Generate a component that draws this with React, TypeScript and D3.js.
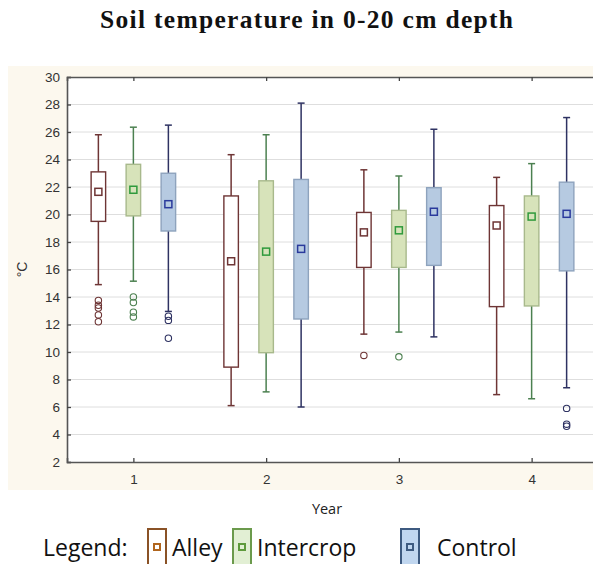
import React, { useEffect, useRef } from 'react';
import * as d3 from 'd3';

// years on the x axis
const years = [1, 2, 3, 4];
const treatments = ['Alley', 'Intercrop', 'Control'];

// box stats per treatment, one entry per year: [whiskerLow, q1, mean, q3, whiskerHigh]
const alleyStats = [
  [14.9, 19.5, 21.65, 23.1, 25.8],
  [6.1, 8.9, 16.6, 21.35, 24.35],
  [11.3, 16.15, 18.7, 20.15, 23.25],
  [6.9, 13.3, 19.2, 20.65, 22.7],
];
const intercropStats = [
  [15.15, 19.9, 21.8, 23.65, 26.35],
  [7.1, 9.95, 17.3, 22.45, 25.8],
  [11.45, 16.15, 18.85, 20.3, 22.8],
  [6.6, 13.35, 19.85, 21.35, 23.7],
];
const controlStats = [
  [12.95, 18.8, 20.75, 23.0, 26.5],
  [6.0, 12.4, 17.5, 22.55, 28.1],
  [11.1, 16.3, 20.2, 21.95, 26.2],
  [7.4, 15.9, 20.05, 22.35, 27.05],
];

// outliers per treatment, per year
const alleyOutliers = [[13.75, 13.4, 13.2, 12.7, 12.2], [], [9.75], []];
const intercropOutliers = [[14.0, 13.6, 12.9, 12.55], [], [9.65], []];
const controlOutliers = [[12.6, 12.3, 11.0], [], [], [5.9, 4.75, 4.6]];

const yTicks = [2, 4, 6, 8, 10, 12, 14, 16, 18, 20, 22, 24, 26, 28, 30];

const styles: Record<string, { fill: string; box: string; whisker: string; mean: string }> = {
  Alley: { fill: '#ffffff', box: '#6e3535', whisker: '#6e3535', mean: '#6e3535' },
  Intercrop: { fill: '#d7e3ba', box: '#a8b98c', whisker: '#4c8050', mean: '#2f9a3c' },
  Control: { fill: '#b6cae1', box: '#8ea3bd', whisker: '#2e3262', mean: '#2a3a9c' },
};

const legendStyles: Record<string, { fill: string; stroke: string; dot: string }> = {
  Alley: { fill: '#ffffff', stroke: '#8a5226', dot: '#b0651e' },
  Intercrop: { fill: '#e2efd4', stroke: '#6b9a4c', dot: '#5e9a3c' },
  Control: { fill: '#c0d6ef', stroke: '#3d5a80', dot: '#3d5a80' },
};

const W = 593;
const H = 564;

export default function App() {
  const svgRef = useRef<SVGSVGElement | null>(null);

  useEffect(() => {
    if (!svgRef.current) return;
    const svg = d3.select(svgRef.current);
    svg.selectAll('*').remove();

    const plot = { left: 67, top: 77, bottom: 462, right: 598 };

    const x = d3.scaleLinear().domain([0.5, 4.5]).range([plot.left, plot.right]);
    const y = d3.scaleLinear().domain([2, 30]).range([plot.bottom, plot.top]);
    const offset = d3.scalePoint<string>().domain(treatments).range([-35, 35]);

    // beige panel
    svg.append('rect')
      .attr('x', 8).attr('y', 66)
      .attr('width', W - 8).attr('height', 424)
      .attr('fill', '#fcf8ee');

    // title
    svg.append('text')
      .attr('x', 100).attr('y', 28)
      .attr('font-family', '"Liberation Serif", serif')
      .attr('font-weight', 'bold')
      .attr('font-size', 25.5)
      .attr('textLength', 413)
      .attr('lengthAdjust', 'spacing')
      .attr('fill', '#111')
      .text('Soil temperature in 0-20 cm depth');

    // plot area
    svg.append('rect')
      .attr('x', plot.left).attr('y', plot.top)
      .attr('width', plot.right - plot.left).attr('height', plot.bottom - plot.top)
      .attr('fill', '#ffffff');

    // grid
    svg.append('g')
      .selectAll('line')
      .data(yTicks.slice(1, -1))
      .join('line')
      .attr('x1', plot.left).attr('x2', plot.right)
      .attr('y1', d => y(d)).attr('y2', d => y(d))
      .attr('stroke', '#dedede')
      .attr('stroke-width', 1);

    // axes
    const yAxis = d3.axisLeft(y).tickValues(yTicks).tickSize(-4).tickPadding(7);
    const gy = svg.append('g').attr('transform', `translate(${plot.left},0)`).call(yAxis);
    const xAxis = d3.axisBottom(x).tickValues(years).tickSize(-4).tickPadding(12).tickFormat(d3.format('d'));
    const gx = svg.append('g').attr('transform', `translate(0,${plot.bottom})`).call(xAxis);
    const xTop = d3.axisTop(x).tickValues(years).tickSize(-4).tickFormat(() => '');
    const gt = svg.append('g').attr('transform', `translate(0,${plot.top})`).call(xTop);

    [gy, gx, gt].forEach(g => {
      g.select('.domain').attr('stroke', '#555').attr('stroke-width', 1.6);
      g.selectAll('.tick line').attr('stroke', '#444').attr('stroke-width', 1.3);
      g.selectAll('.tick text')
        .attr('fill', '#333')
        .attr('font-family', '"Liberation Sans", Arial, sans-serif')
        .attr('font-size', 13.5);
    });

    // axis titles
    svg.append('text')
      .attr('transform', `translate(27,${(plot.top + plot.bottom) / 2}) rotate(-90)`)
      .attr('text-anchor', 'middle')
      .attr('font-family', '"Liberation Sans", Arial, sans-serif')
      .attr('font-size', 14)
      .attr('fill', '#333')
      .text('°C');

    svg.append('text')
      .attr('x', 327).attr('y', 514)
      .attr('text-anchor', 'middle')
      .attr('font-family', '"Open Sans", sans-serif')
      .attr('font-size', 14.5)
      .attr('fill', '#222')
      .text('Year');

    // boxes
    const statsBy: Record<string, number[][]> = { Alley: alleyStats, Intercrop: intercropStats, Control: controlStats };
    const outBy: Record<string, number[][]> = { Alley: alleyOutliers, Intercrop: intercropOutliers, Control: controlOutliers };
    const boxW = 14.5;
    const capW = 7;
    const meanSz = 7;

    treatments.forEach(t => {
      const st = styles[t];
      years.forEach((yr, i) => {
        const [lo, q1, mean, q3, hi] = statsBy[t][i];
        const cx = x(yr) + (offset(t) ?? 0);
        const g = svg.append('g');
        // whisker
        g.append('line').attr('x1', cx).attr('x2', cx).attr('y1', y(hi)).attr('y2', y(lo))
          .attr('stroke', st.whisker).attr('stroke-width', 1.5);
        g.append('line').attr('x1', cx - capW / 2).attr('x2', cx + capW / 2).attr('y1', y(hi)).attr('y2', y(hi))
          .attr('stroke', st.whisker).attr('stroke-width', 1.5);
        g.append('line').attr('x1', cx - capW / 2).attr('x2', cx + capW / 2).attr('y1', y(lo)).attr('y2', y(lo))
          .attr('stroke', st.whisker).attr('stroke-width', 1.5);
        // box
        g.append('rect')
          .attr('x', cx - boxW / 2).attr('y', y(q3))
          .attr('width', boxW).attr('height', y(q1) - y(q3))
          .attr('fill', st.fill).attr('stroke', st.box).attr('stroke-width', 1.4);
        // mean
        g.append('rect')
          .attr('x', cx - meanSz / 2).attr('y', y(mean) - meanSz / 2)
          .attr('width', meanSz).attr('height', meanSz)
          .attr('fill', 'none').attr('stroke', st.mean).attr('stroke-width', 1.5);
        // outliers
        g.selectAll('circle')
          .data(outBy[t][i])
          .join('circle')
          .attr('cx', cx).attr('cy', d => y(d)).attr('r', 3.2)
          .attr('fill', 'none').attr('stroke', st.whisker).attr('stroke-width', 1.1);
      });
    });

    // legend
    const lg = svg.append('g').attr('font-family', '"Open Sans", sans-serif').attr('font-size', 23).attr('fill', '#111');
    lg.append('text').attr('x', 43).attr('y', 556).text('Legend:');
    const items = [
      { name: 'Alley', ix: 148, tx: 172 },
      { name: 'Intercrop', ix: 233, tx: 257 },
      { name: 'Control', ix: 401, tx: 437 },
    ];
    items.forEach(it => {
      const ls = legendStyles[it.name];
      lg.append('rect').attr('x', it.ix).attr('y', 529).attr('width', 18).attr('height', 40)
        .attr('fill', ls.fill).attr('stroke', ls.stroke).attr('stroke-width', 2);
      lg.append('rect').attr('x', it.ix + 6).attr('y', 544).attr('width', 6).attr('height', 6)
        .attr('fill', ls.fill).attr('stroke', ls.dot).attr('stroke-width', 2);
      lg.append('text').attr('x', it.tx).attr('y', 556).text(it.name);
    });
  }, []);

  return (
    <div style={{ position: 'absolute', left: 0, top: 0, width: W, height: H, background: '#fff' }}>
      <svg ref={svgRef} width={W} height={H} style={{ display: 'block' }} />
    </div>
  );
}
